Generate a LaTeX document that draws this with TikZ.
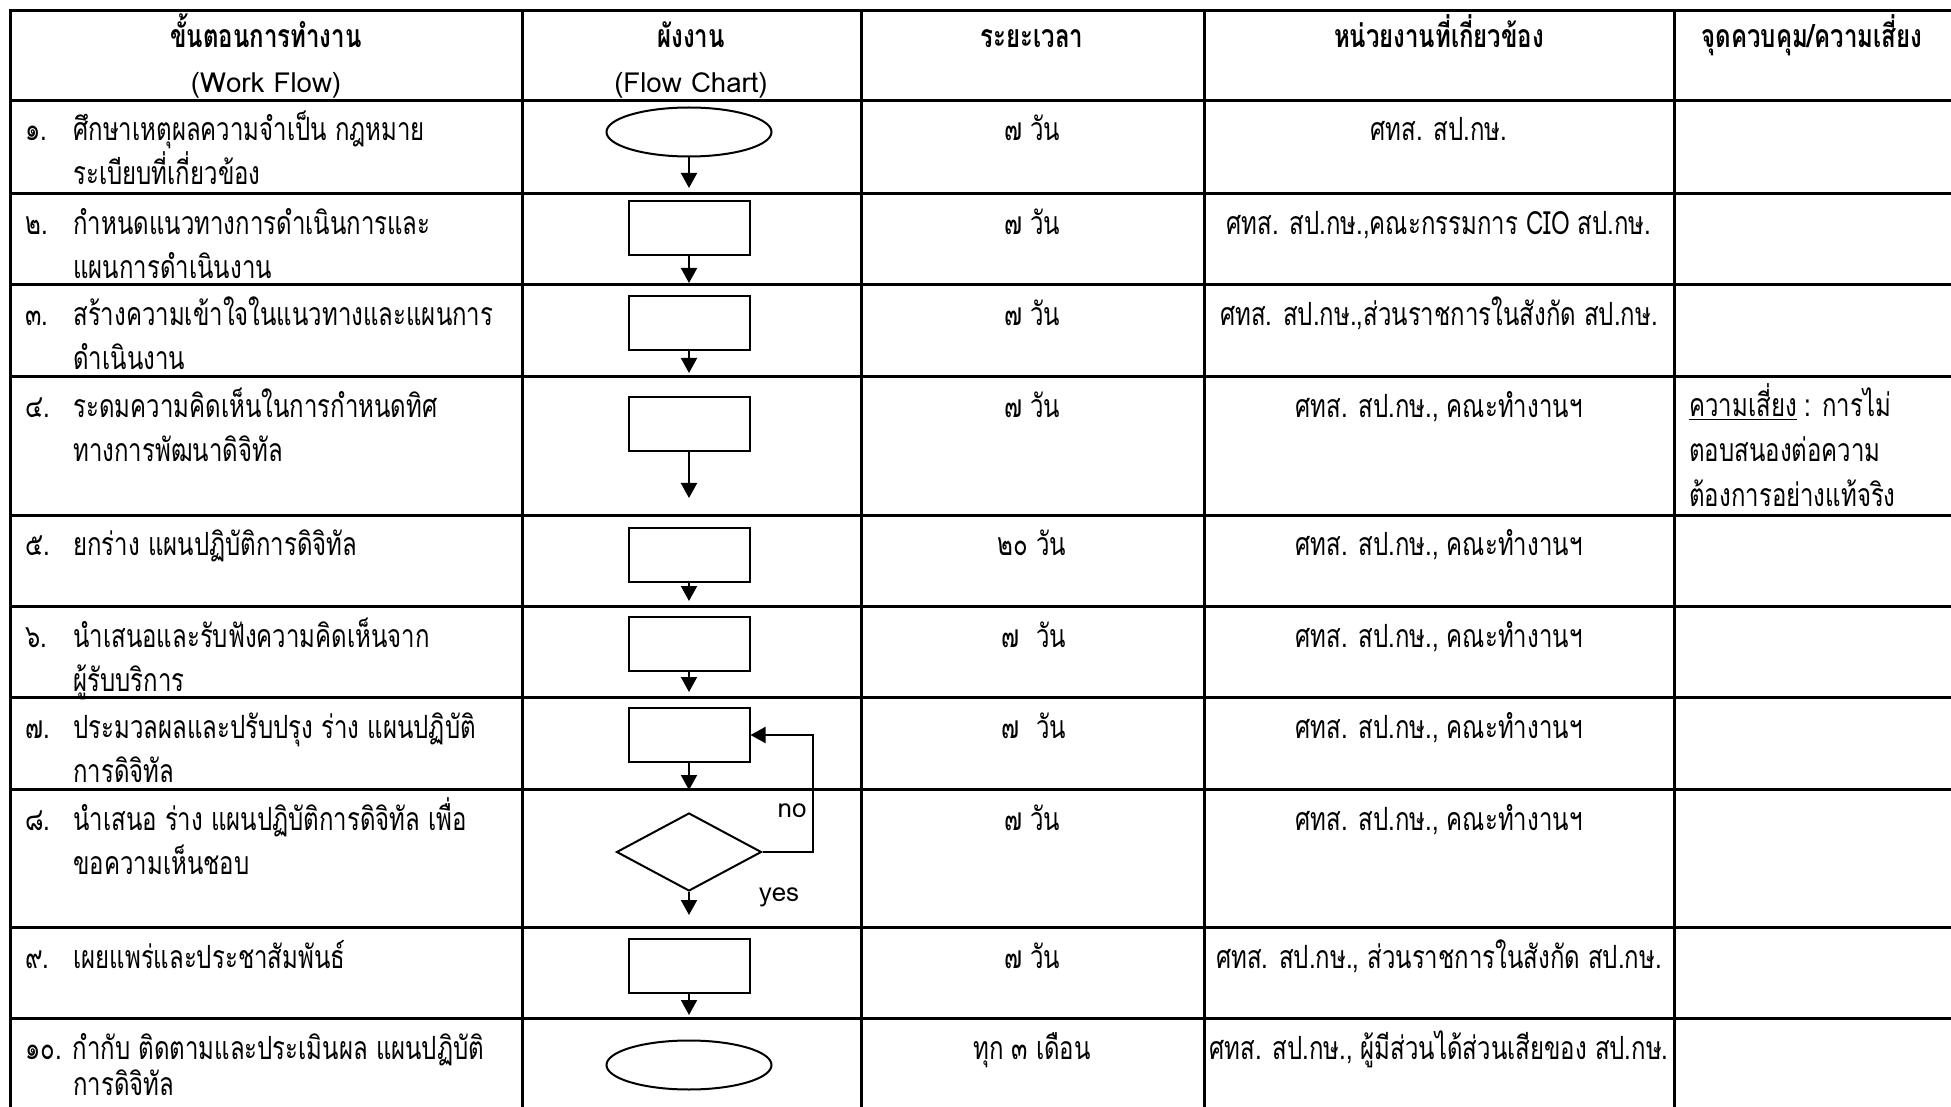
\documentclass[tikz,border=0pt]{standalone}
\usepackage{fontspec}
\setmainfont[Script=Thai,FakeStretch=0.75]{Loma}
\newfontfamily\latinfont[Script=Thai]{Loma}
\usetikzlibrary{shapes.geometric,arrows.meta}

\begin{document}
\begin{tikzpicture}[x=0.5pt,y=-0.5pt,
  every node/.style={font=\fontsize{16}{19}\selectfont,inner sep=0pt,text height=14pt,text depth=2pt},
  grid/.style={line width=1.5pt},
  boxline/.style={draw,line width=1pt,inner sep=0pt,text height=,text depth=},
  startend/.style={boxline,ellipse,minimum width=82.5pt,minimum height=24.5pt},
  process/.style={boxline,rectangle,minimum width=60.5pt,minimum height=27pt},
  decision/.style={boxline,diamond,minimum width=72.5pt,minimum height=39pt},
  flowarrow/.style={line width=1pt,-{Triangle[width=8pt,length=7.5pt]}},
  head/.style={font=\fontsize{16}{19}\selectfont\bfseries},
  eng/.style={font=\fontsize{13.8}{16}\latinfont},
  steptext/.style={anchor=west},
  ]
  \useasboundingbox (0,0) rectangle (1951,1107);
  \fill[white] (0,0) rectangle (1951,1107);
  \clip (0,0) rectangle (1951,1107);

  % table frame, the right and bottom edges run off the page
  \draw[grid] (10,1107) -- (10,11) -- (1951,11);
  \foreach \y in {101,194,285,377,515,606,697,789,927,1018}
    \draw[grid] (10,\y) -- (1951,\y);
  \foreach \x in {522,861,1204,1674}
    \draw[grid] (\x,11) -- (\x,1107);

  % header
  \node[head] (h1a) at (266,36) {ขั้นตอนการทำงาน};
  \node[eng] (h1b) at (266,81) {(Work Flow)};
  \node[head] (h2a) at (691,36) {ผังงาน};
  \node[eng] (h2b) at (691,81) {(Flow Chart)};
  \node[head] (h3) at (1032,36) {ระยะเวลา};
  \node[head] (h4) at (1439,36) {หน่วยงานที่เกี่ยวข้อง};
  \node[head] (h5) at (1812,36) {จุดควบคุม/ความเสี่ยง};

  % work flow steps
  \node[steptext] (n1) at (25,129) {๑.};
  \node[steptext] (w1a) at (73,129) {ศึกษาเหตุผลความจำเป็น กฎหมาย};
  \node[steptext] (w1b) at (73,173) {ระเบียบที่เกี่ยวข้อง};
  \node[steptext] (n2) at (25,223) {๒.};
  \node[steptext] (w2a) at (73,223) {กำหนดแนวทางการดำเนินการและ};
  \node[steptext] (w2b) at (73,267) {แผนการดำเนินงาน};
  \node[steptext] (n3) at (25,314) {๓.};
  \node[steptext] (w3a) at (73,314) {สร้างความเข้าใจในแนวทางและแผนการ};
  \node[steptext] (w3b) at (73,358) {ดำเนินงาน};
  \node[steptext] (n4) at (25,405) {๔.};
  \node[steptext] (w4a) at (73,405) {ระดมความคิดเห็นในการกำหนดทิศ};
  \node[steptext] (w4b) at (73,450) {ทางการพัฒนาดิจิทัล};
  \node[steptext] (n5) at (25,543) {๕.};
  \node[steptext] (w5a) at (73,543) {ยกร่าง แผนปฏิบัติการดิจิทัล};
  \node[steptext] (n6) at (25,635) {๖.};
  \node[steptext] (w6a) at (73,635) {นำเสนอและรับฟังความคิดเห็นจาก};
  \node[steptext] (w6b) at (73,679) {ผู้รับบริการ};
  \node[steptext] (n7) at (25,726) {๗.};
  \node[steptext] (w7a) at (73,726) {ประมวลผลและปรับปรุง ร่าง แผนปฏิบัติ};
  \node[steptext] (w7b) at (73,770) {การดิจิทัล};
  \node[steptext] (n8) at (25,818) {๘.};
  \node[steptext] (w8a) at (73,818) {นำเสนอ ร่าง แผนปฏิบัติการดิจิทัล เพื่อ};
  \node[steptext] (w8b) at (73,862) {ขอความเห็นชอบ};
  \node[steptext] (n9) at (25,956) {๙.};
  \node[steptext] (w9a) at (73,956) {เผยแพร่และประชาสัมพันธ์};
  \node[steptext] (w10a) at (25,1047) {๑๐. กำกับ ติดตามและประเมินผล แผนปฏิบัติ};
  \node[steptext] (w10b) at (73,1083) {การดิจิทัล};

  % flow chart
  \node[startend] (s1) at (689,132) {};
  \node[process] (s2) at (689,228) {};
  \node[process] (s3) at (689,323) {};
  \node[process] (s4) at (689,424) {};
  \node[process] (s5) at (689,555) {};
  \node[process] (s6) at (689,644) {};
  \node[process] (s7) at (689,735) {};
  \node[decision] (d8) at (689,852) {};
  \node[process] (s9) at (689,966) {};
  \node[startend] (s10) at (689,1065) {};
  \coordinate (t1) at (689,188);
  \coordinate (t2) at (689,283);
  \coordinate (t3) at (689,373);
  \coordinate (t4) at (689,498);
  \coordinate (t5) at (689,601);
  \coordinate (t6) at (689,692);
  \coordinate (t7) at (689,790);
  \coordinate (t8) at (689,915);
  \coordinate (t9) at (689,1015);
  \coordinate (nobend) at (813,735);
  \draw[flowarrow] (s1) -- (t1);
  \draw[flowarrow] (s2) -- (t2);
  \draw[flowarrow] (s3) -- (t3);
  \draw[flowarrow] (s4) -- (t4);
  \draw[flowarrow] (s5) -- (t5);
  \draw[flowarrow] (s6) -- (t6);
  \draw[flowarrow] (s7) -- (t7);
  \draw[flowarrow] (d8) -- (t8);
  \draw[flowarrow] (s9) -- (t9);
  \draw[flowarrow] (d8.east) -| (nobend) -- (s7.east);
  \node[eng,font=\fontsize{13}{16}\latinfont] (no) at (792,805) {no};
  \node[eng,font=\fontsize{13}{16}\latinfont] (yes) at (779,889) {yes};

  % time
  \node (p1) at (1032,129) {๗ วัน};
  \node (p2) at (1032,223) {๗ วัน};
  \node (p3) at (1032,314) {๗ วัน};
  \node (p4) at (1032,405) {๗ วัน};
  \node (p5) at (1032,543) {๒๐ วัน};
  \node (p6) at (1034,635) {๗~ วัน};
  \node (p7) at (1034,726) {๗~ วัน};
  \node (p8) at (1032,818) {๗ วัน};
  \node (p9) at (1032,956) {๗ วัน};
  \node (p10) at (1032,1047) {ทุก ๓ เดือน};

  % units involved
  \node (u1) at (1439,129) {ศทส. สป.กษ.};
  \node (u2) at (1439,223) {ศทส. สป.กษ.,คณะกรรมการ CIO สป.กษ.};
  \node (u3) at (1439,314) {ศทส. สป.กษ.,ส่วนราชการในสังกัด สป.กษ.};
  \node (u4) at (1439,405) {ศทส. สป.กษ., คณะทำงานฯ};
  \node (u5) at (1439,543) {ศทส. สป.กษ., คณะทำงานฯ};
  \node (u6) at (1439,635) {ศทส. สป.กษ., คณะทำงานฯ};
  \node (u7) at (1439,726) {ศทส. สป.กษ., คณะทำงานฯ};
  \node (u8) at (1439,818) {ศทส. สป.กษ., คณะทำงานฯ};
  \node (u9) at (1439,956) {ศทส. สป.กษ., ส่วนราชการในสังกัด สป.กษ.};
  \node (u10) at (1439,1047) {ศทส. สป.กษ., ผู้มีส่วนได้ส่วนเสียของ สป.กษ.};

  % control point / risk
  \node[steptext] (r4a) at (1689,404) {\underline{ความเสี่ยง} : การไม่};
  \node[steptext] (r4b) at (1689,449) {ตอบสนองต่อความ};
  \node[steptext] (r4c) at (1689,494) {ต้องการอย่างแท้จริง};
\end{tikzpicture}
\end{document}
